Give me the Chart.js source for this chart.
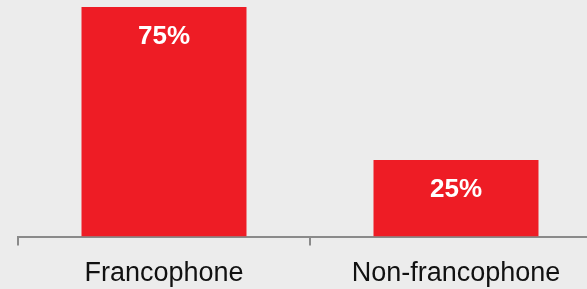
<!DOCTYPE html>
<html>
<head>
<meta charset="utf-8">
<script src="https://cdn.jsdelivr.net/npm/chart.js@4"></script>
<style>
  html, body { margin: 0; padding: 0; background: #ececec; overflow: hidden; }
  #wrap { position: relative; width: 602px; height: 289px; }
</style>
</head>
<body>
<div id="wrap"><canvas id="barChart"></canvas></div>
<script>
var categories = ["Francophone", "Non-francophone"];
var shares = [75, 25];
var barLabels = ["75%", "25%"];

// draws the white % label near the top of each bar
var barTextPlugin = {
  id: 'barText',
  afterDatasetsDraw: function (chart) {
    var ctx = chart.ctx;
    var meta = chart.getDatasetMeta(0);
    ctx.save();
    ctx.fillStyle = '#ffffff';
    ctx.font = 'bold 26px "Liberation Sans", Arial, sans-serif';
    ctx.textAlign = 'center';
    ctx.textBaseline = 'middle';
    meta.data.forEach(function (bar, i) {
      ctx.fillText(barLabels[i], bar.x, bar.y + 30);
    });
    ctx.restore();
  }
};

var chartDiv = document.getElementById('barChart');
var myChart = new Chart(chartDiv, {
  type: 'bar',
  data: {
    labels: categories,
    datasets: [{
      data: shares,
      backgroundColor: '#ee1c25',
      borderWidth: 0,
      categoryPercentage: 1,
      barPercentage: 0.565
    }]
  },
  options: {
    responsive: true,
    maintainAspectRatio: false,
    animation: false,
    layout: { padding: { left: 18, top: 7, right: 0, bottom: -13 } },
    plugins: {
      legend: { display: false },
      tooltip: { enabled: false }
    },
    scales: {
      x: {
        grid: { drawOnChartArea: false, drawTicks: true, tickLength: 9, color: '#8a8a8a', lineWidth: 2 },
        border: { color: '#8a8a8a', width: 2 },
        ticks: {
          color: '#111111',
          padding: 12,
          font: { family: '"Liberation Sans", Arial, sans-serif', size: 27 }
        }
      },
      y: {
        display: false,
        min: 0,
        max: 75
      }
    }
  },
  plugins: [barTextPlugin]
});
</script>
</body>
</html>
